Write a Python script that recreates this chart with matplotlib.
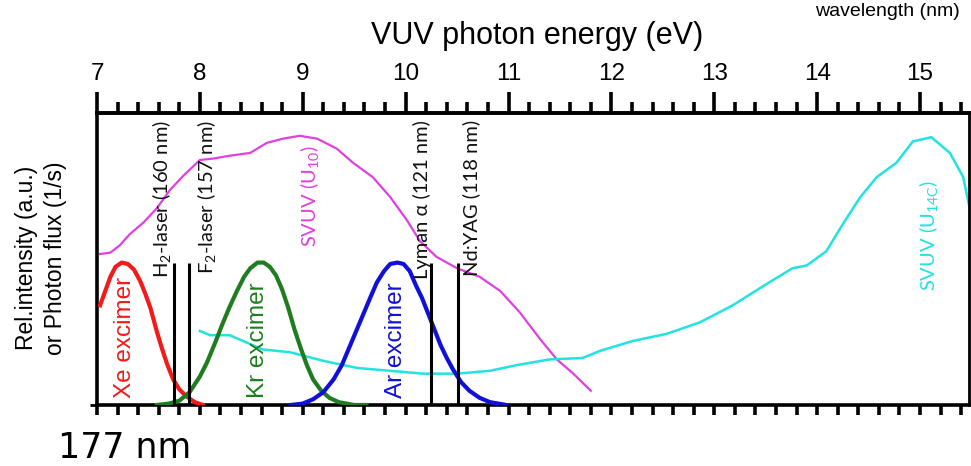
import matplotlib
matplotlib.use("Agg")
import matplotlib.pyplot as plt
import numpy as np

plt.rcParams["mathtext.fontset"] = "custom"
plt.rcParams["mathtext.rm"] = "Lato"
plt.rcParams["mathtext.it"] = "Lato:italic"

# ---- data: photon energy (eV) vs. relative intensity (excimer peak = 1) ----
xe_ev = [7.03, 7.08, 7.13, 7.18, 7.24, 7.30, 7.36, 7.42, 7.47, 7.52, 7.58, 7.63, 7.68,
         7.74, 7.80, 7.87, 7.95, 8.03]
xe_int = [0.70, 0.80, 0.90, 0.97, 1.00, 0.99, 0.95, 0.87, 0.78, 0.68, 0.52, 0.40, 0.29,
          0.18, 0.11, 0.06, 0.02, 0.00]

kr_ev = [7.58, 7.70, 7.80, 7.90, 8.00, 8.07, 8.15, 8.22, 8.29, 8.36, 8.43, 8.49, 8.56,
         8.62, 8.68, 8.74, 8.80, 8.86, 8.92, 8.98, 9.04, 9.10, 9.18, 9.26, 9.35, 9.50, 9.62]
kr_int = [0.00, 0.01, 0.03, 0.09, 0.20, 0.30, 0.44, 0.57, 0.69, 0.80, 0.90, 0.96, 1.00,
          1.00, 0.97, 0.91, 0.81, 0.68, 0.53, 0.40, 0.28, 0.18, 0.10, 0.05, 0.02, 0.00, 0.00]

ar_ev = [8.88, 9.00, 9.10, 9.20, 9.30, 9.38, 9.45, 9.52, 9.59, 9.66, 9.72, 9.79, 9.85,
         9.92, 9.98, 10.04, 10.10, 10.16, 10.22, 10.28, 10.34, 10.40, 10.46, 10.54, 10.62,
         10.72, 10.82, 10.98]
ar_int = [0.00, 0.01, 0.04, 0.09, 0.18, 0.28, 0.40, 0.52, 0.64, 0.76, 0.86, 0.94, 0.99,
          1.00, 0.99, 0.94, 0.84, 0.75, 0.64, 0.53, 0.42, 0.33, 0.25, 0.16, 0.10,
          0.05, 0.02, 0.00]

u10_ev = [7.03, 7.13, 7.22, 7.32, 7.45, 7.58, 7.71, 7.84, 8.00, 8.13, 8.29, 8.49, 8.65, 8.81,
          8.97, 9.14, 9.33, 9.49, 9.68, 9.85, 10.01, 10.14, 10.30, 10.50, 10.72, 10.92,
          11.11, 11.31, 11.47, 11.63, 11.80]
u10_int = [1.06, 1.07, 1.12, 1.20, 1.28, 1.38, 1.51, 1.61, 1.72, 1.73, 1.75, 1.77, 1.84, 1.87,
           1.89, 1.87, 1.80, 1.70, 1.60, 1.46, 1.30, 1.15, 1.04, 0.96, 0.90, 0.80,
           0.65, 0.46, 0.32, 0.22, 0.10]

u14c_ev = [8.00, 8.10, 8.29, 8.61, 8.88, 9.20, 9.53, 9.85, 10.17, 10.50, 10.82, 11.08, 11.40,
           11.72, 11.89, 12.21, 12.54, 12.86, 13.18, 13.51, 13.76, 13.90, 14.09, 14.25,
           14.42, 14.58, 14.77, 14.93, 15.11, 15.29, 15.42, 15.48]
u14c_int = [0.52, 0.49, 0.49, 0.39, 0.37, 0.31, 0.26, 0.24, 0.22, 0.22, 0.24, 0.28, 0.32,
            0.33, 0.38, 0.45, 0.50, 0.58, 0.70, 0.85, 0.96, 0.98, 1.08, 1.27,
            1.46, 1.60, 1.70, 1.85, 1.88, 1.77, 1.60, 1.39]

# laser / line sources: wavelength (nm)
line_names = ["H$_2$-laser", "F$_2$-laser", "Lyman α", "Nd:YAG"]
line_nm = [160, 157, 121, 118]
line_height = 1.0

top_ticks = [7, 8, 9, 10, 11, 12, 13, 14, 15]

HC = 1239.84  # eV * nm

fig = plt.figure(figsize=(9.71, 4.66), dpi=100)
ax = fig.add_axes([97 / 971, 1 - 405 / 466, (969 - 97) / 971, (405 - 113) / 466])
ax.set_xlim(7, 7 + (969 - 97) / 102.875)
ax.set_ylim(0, 2.05)

red, green, blue = "#f21a1a", "#1f7d1f", "#1010d8"
magenta, cyan = "#e040e0", "#22e2e2"

ax.plot(u10_ev, u10_int, color=magenta, lw=1.6, zorder=2)
ax.plot(u14c_ev, u14c_int, color=cyan, lw=1.8, zorder=2)
for ev, val, col in [(xe_ev, xe_int, red), (kr_ev, kr_int, green), (ar_ev, ar_int, blue)]:
    ax.plot(ev, val, color=col, lw=3, zorder=3, solid_joinstyle="round")

line_ev = [HC / nm for nm in line_nm]
ax.vlines(line_ev, 0, line_height, color="black", lw=2.2, zorder=4)

label_font = ["Lato", "DejaVu Sans"]
# label offsets from each line (eV): H2 / Lyman on the left side, F2 / Nd:YAG on the right
offsets = [-0.12, 0.17, -0.09, 0.13]
for name, nm, ev, dx in zip(line_names, line_nm, line_ev, offsets):
    ax.text(ev + dx, 2.0, f"{name} ({nm} nm)", rotation=90, ha="center", va="top",
            fontsize=14.5, family=label_font, color="#111111")

ax.text(9.07, 1.465, "SVUV (U$_{10}$)", rotation=90, ha="center", va="center",
        fontsize=14.5, family=label_font, color=magenta)
ax.text(15.08, 1.19, "SVUV (U$_{\\mathrm{14C}}$)", rotation=90, ha="center", va="center",
        fontsize=14.5, family=label_font, color=cyan)

exc_font = "Liberation Sans"
ax.text(7.27, 0.05, "Xe excimer", rotation=90, ha="center", va="bottom",
        fontsize=17.5, family=exc_font, color=red)
ax.text(8.565, 0.05, "Kr excimer", rotation=90, ha="center", va="bottom",
        fontsize=17.5, family=exc_font, color=green)
ax.text(9.906, 0.05, "Ar excimer", rotation=90, ha="center", va="bottom",
        fontsize=17.5, family=exc_font, color=blue)

# frame
for side in ["left", "right", "top", "bottom"]:
    ax.spines[side].set_linewidth(2.6)
ax.spines["right"].set_linewidth(2.0)

# bottom: evenly spaced unlabeled ticks every 0.2 eV
ax.set_xticks(np.arange(7, 15.5, 0.2))
ax.tick_params(axis="x", which="major", direction="out", length=7, width=2.6,
               labelbottom=False, bottom=True, top=False)
ax.set_yticks([0])
ax.tick_params(axis="y", direction="out", length=5, width=2, labelleft=False)

# top: photon energy scale
sec = ax.secondary_xaxis("top")
sec.set_xticks(top_ticks)
sec.set_xticks(np.arange(7.2, 15.5, 0.2), minor=True)
sec.spines["top"].set_linewidth(2.6)
sec.tick_params(which="major", length=15, width=2.6, pad=5, labelsize=17.5)
sec.tick_params(which="minor", length=8, width=2.6)
for lbl in sec.get_xticklabels():
    lbl.set_family("Liberation Sans")

fig.text(537 / 971, 1 - 36 / 466, "VUV photon energy (eV)", ha="center", va="center",
         fontsize=22, family="Liberation Sans")
fig.text(41 / 971, 1 - 258 / 466, "Rel.intensity (a.u.)\nor Photon flux (1/s)",
         rotation=90, ha="center", va="center", multialignment="center",
         fontsize=16.5, family="Liberation Sans", linespacing=1.35)
fig.text(960 / 971, 1 - 3 / 466, "wavelength (nm)", ha="right", va="top",
         fontsize=14, family="Liberation Sans")
fig.text(58 / 971, 1 - 458 / 466, "177 nm", ha="left", va="baseline",
         fontsize=25, family="DejaVu Sans")

fig.savefig("out.png", dpi=100)
